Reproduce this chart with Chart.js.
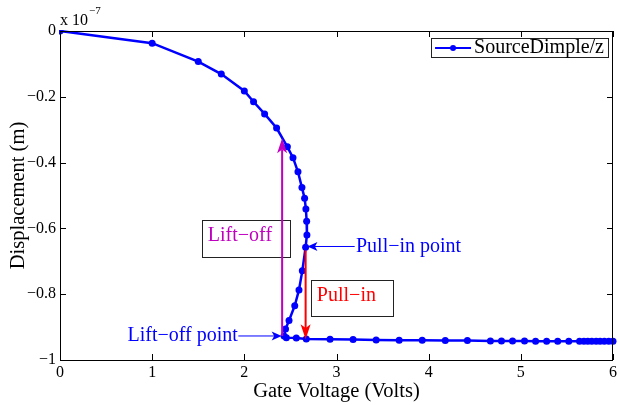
<!DOCTYPE html>
<html>
<head>
<meta charset="utf-8">
<script src="https://cdn.jsdelivr.net/npm/chart.js@4.4.1/dist/chart.umd.min.js"></script>
<style>
  html, body { margin: 0; padding: 0; background: #fff; }
  #wrap { width: 620px; height: 405px; position: relative; }
</style>
</head>
<body>
<div id="wrap"><canvas id="chart"></canvas></div>
<script>
(function () {
  "use strict";

  /* ===== Data: gate voltage (V) vs displacement (x 1e-7 m), in solution-path order ===== */
  var GATE_V = [
    0, 1.0, 1.5, 1.75, 2.0, 2.1, 2.22, 2.35,
    2.467, 2.528, 2.582, 2.625, 2.654, 2.668, 2.676, 2.679,
    2.665, 2.629, 2.593, 2.547, 2.485, 2.447, 2.431, 2.456, 2.564, 2.672,
    2.93, 3.18, 3.43, 3.68, 3.93, 4.18, 4.42, 4.67,
    4.79, 4.91, 5.04, 5.16, 5.28, 5.40, 5.52,
    5.637, 5.684, 5.727, 5.770, 5.817, 5.860, 5.906, 5.954, 6.0
  ];
  var DISP = [
    0, -0.037, -0.093, -0.131, -0.182, -0.215, -0.252, -0.295,
    -0.352, -0.385, -0.428, -0.476, -0.508, -0.541, -0.578, -0.620,
    -0.657, -0.729, -0.787, -0.835, -0.880, -0.906, -0.927, -0.932, -0.933, -0.936,
    -0.937, -0.938, -0.939, -0.940, -0.940, -0.941, -0.941, -0.942,
    -0.942, -0.942, -0.942, -0.943, -0.943, -0.943, -0.943,
    -0.943, -0.943, -0.943, -0.943, -0.943, -0.943, -0.943, -0.943, -0.943
  ];
  var SERIES_LABEL = "SourceDimple/z";
  var X_TICKS = [0, 1, 2, 3, 4, 5, 6];
  var Y_TICKS = [0, -0.2, -0.4, -0.6, -0.8, -1];

  var LIFT_OFF = { v: 2.41, top: -0.326, bottom: -0.927 };
  var PULL_IN = { v: 2.665, top: -0.667, bottom: -0.937, pointV: 2.685, pointY: -0.655 };

  var BLUE = "#0000ff";
  var MAGENTA = "#bf00bf";
  var RED = "#ff0000";
  var FONT = "'Liberation Serif', 'Times New Roman', serif";
  var TICK_LEN = 6;

  var points = GATE_V.map(function (v, i) { return { x: v, y: DISP[i] }; });

  function fmtTick(value) {
    var v = Math.round(value * 10) / 10;
    return v < 0 ? "\u2212" + String(Math.abs(v)) : String(v);
  }

  /* ===== Drawing helpers ===== */
  function arrow(ctx, x0, y0, x1, y1, color, width, headLen, headW) {
    var dx = x1 - x0, dy = y1 - y0;
    var len = Math.sqrt(dx * dx + dy * dy);
    var ux = dx / len, uy = dy / len;
    var px = -uy, py = ux;
    var bx = x1 - ux * headLen, by = y1 - uy * headLen;
    var nx = x1 - ux * headLen * 0.75, ny = y1 - uy * headLen * 0.75;
    ctx.save();
    ctx.strokeStyle = color;
    ctx.fillStyle = color;
    ctx.lineWidth = width;
    ctx.beginPath();
    ctx.moveTo(x0, y0);
    ctx.lineTo(nx, ny);
    ctx.stroke();
    ctx.beginPath();
    ctx.moveTo(x1, y1);
    ctx.lineTo(bx + px * headW / 2, by + py * headW / 2);
    ctx.lineTo(nx, ny);
    ctx.lineTo(bx - px * headW / 2, by - py * headW / 2);
    ctx.closePath();
    ctx.fill();
    ctx.restore();
  }

  function label(ctx, text, x, y, color, align) {
    ctx.save();
    ctx.font = "20px " + FONT;
    ctx.fillStyle = color;
    ctx.textAlign = align || "left";
    ctx.textBaseline = "middle";
    ctx.fillText(text, x, y);
    ctx.restore();
  }

  function box(ctx, x0, y0, x1, y1) {
    ctx.save();
    ctx.strokeStyle = "#222";
    ctx.lineWidth = 1;
    ctx.strokeRect(Math.round(x0) + 0.5, Math.round(y0) + 0.5, Math.round(x1 - x0), Math.round(y1 - y0));
    ctx.restore();
  }

  /* ===== Axes box, inward ticks, exponent, legend, annotations ===== */
  var decorations = {
    id: "decorations",
    afterDraw: function (chart) {
      var ctx = chart.ctx;
      var a = chart.chartArea;
      var xs = chart.scales.x, ys = chart.scales.y;
      function X(v) { return xs.getPixelForValue(v); }
      function Y(v) { return ys.getPixelForValue(v); }

      ctx.save();
      ctx.strokeStyle = "#000";
      ctx.lineWidth = 1;
      ctx.strokeRect(a.left + 0.5, a.top + 0.5, a.right - a.left - 1, a.bottom - a.top);
      ctx.beginPath();
      X_TICKS.forEach(function (v) {
        var x = Math.round(X(v)) + 0.5;
        ctx.moveTo(x, a.bottom); ctx.lineTo(x, a.bottom - TICK_LEN);
        ctx.moveTo(x, a.top); ctx.lineTo(x, a.top + TICK_LEN);
      });
      Y_TICKS.forEach(function (v) {
        var y = Math.round(Y(v)) + 0.5;
        ctx.moveTo(a.left, y); ctx.lineTo(a.left + TICK_LEN, y);
        ctx.moveTo(a.right, y); ctx.lineTo(a.right - TICK_LEN, y);
      });
      ctx.stroke();

      // axis multiplier
      ctx.fillStyle = "#000";
      ctx.textBaseline = "alphabetic";
      ctx.textAlign = "left";
      ctx.font = "16px " + FONT;
      ctx.fillText("x 10", a.left, a.top - 6);
      var w = ctx.measureText("x 10").width;
      ctx.font = "11px " + FONT;
      ctx.fillText("\u22127", a.left + w + 1, a.top - 17);
      ctx.restore();

      // legend
      var ds = chart.data.datasets[0];
      ctx.save();
      ctx.font = "20px " + FONT;
      var tw = ctx.measureText(ds.label).width;
      var lw = 36;
      var right = a.right - 5, top = a.top + 7, h = 19;
      var left = right - (4 + lw + 3 + tw + 4);
      ctx.fillStyle = "#fff";
      ctx.fillRect(left, top, right - left, h);
      ctx.restore();
      box(ctx, left, top, right, top + h);
      ctx.save();
      var ly = top + h / 2 + 0.5;
      ctx.strokeStyle = ds.borderColor;
      ctx.lineWidth = 2;
      ctx.beginPath();
      ctx.moveTo(left + 4, ly); ctx.lineTo(left + 4 + lw, ly);
      ctx.stroke();
      ctx.fillStyle = ds.borderColor;
      ctx.beginPath();
      ctx.arc(left + 4 + lw / 2, ly, 3, 0, Math.PI * 2);
      ctx.fill();
      ctx.restore();
      label(ctx, ds.label, left + 4 + lw + 3, ly, "#000");

      // text boxes
      box(ctx, X(1.540), Y(-0.574), X(2.499), Y(-0.686));
      label(ctx, "Lift\u2212off", X(1.604), Y(-0.622), MAGENTA);
      box(ctx, X(2.726), Y(-0.757), X(3.614), Y(-0.866));
      label(ctx, "Pull\u2212in", X(2.787), Y(-0.805), RED);

      // jump arrows
      arrow(ctx, X(LIFT_OFF.v), Y(LIFT_OFF.bottom), X(LIFT_OFF.v), Y(LIFT_OFF.top), MAGENTA, 2, 15, 10);
      arrow(ctx, X(PULL_IN.v), Y(PULL_IN.top), X(PULL_IN.v), Y(PULL_IN.bottom), RED, 2, 15, 10);

      // point callouts
      arrow(ctx, X(3.197), Y(PULL_IN.pointY), X(PULL_IN.pointV), Y(PULL_IN.pointY), BLUE, 1, 10, 9);
      label(ctx, "Pull\u2212in point", X(3.211), Y(PULL_IN.pointY), BLUE);
      arrow(ctx, X(1.935), Y(LIFT_OFF.bottom), X(LIFT_OFF.v - 0.005), Y(LIFT_OFF.bottom), BLUE, 1, 10, 9);
      label(ctx, "Lift\u2212off point", X(1.93), Y(LIFT_OFF.bottom), BLUE, "right");
    }
  };

  var canvas = document.getElementById("chart");
  new Chart(canvas.getContext("2d"), {
    type: "scatter",
    data: {
      datasets: [{
        label: SERIES_LABEL,
        data: points,
        showLine: true,
        borderColor: BLUE,
        backgroundColor: BLUE,
        borderWidth: 2.5,
        pointRadius: 3.5,
        pointBorderWidth: 0,
        pointHoverRadius: 3.5,
        tension: 0,
        clip: { left: 1, top: 1, right: 4, bottom: 4 },
      }],
    },
    options: {
      responsive: true,
      maintainAspectRatio: false,
      animation: false,
      events: [],
      layout: { padding: { top: 31, right: 3, left: 0, bottom: 0 } },
      plugins: {
        legend: { display: false },
        tooltip: { enabled: false },
      },
      scales: {
        x: {
          type: "linear",
          min: 0,
          max: 6,
          afterBuildTicks: function (s) { s.ticks = X_TICKS.map(function (v) { return { value: v }; }); },
          afterFit: function (s) { s.height = 45; },
          grid: { display: false, drawTicks: false },
          border: { display: false },
          ticks: { color: "#000", font: { family: FONT, size: 16 }, padding: 3, maxRotation: 0, autoSkip: false },
          title: { display: true, text: "Gate Voltage (Volts)", color: "#000", font: { family: FONT, size: 20.5 }, padding: { top: 0, bottom: 1 } },
        },
        y: {
          type: "linear",
          min: -1,
          max: 0,
          afterBuildTicks: function (s) { s.ticks = Y_TICKS.map(function (v) { return { value: v }; }); },
          afterFit: function (s) { s.width = 60; },
          grid: { display: false, drawTicks: false },
          border: { display: false },
          ticks: { color: "#000", font: { family: FONT, size: 16 }, padding: 4, autoSkip: false, callback: fmtTick },
          title: { display: true, text: "Displacement (m)", color: "#000", font: { family: FONT, size: 20.5 }, padding: { top: 6, bottom: 0 } },
        },
      },
    },
    plugins: [decorations],
  });
})();
</script>
</body>
</html>
